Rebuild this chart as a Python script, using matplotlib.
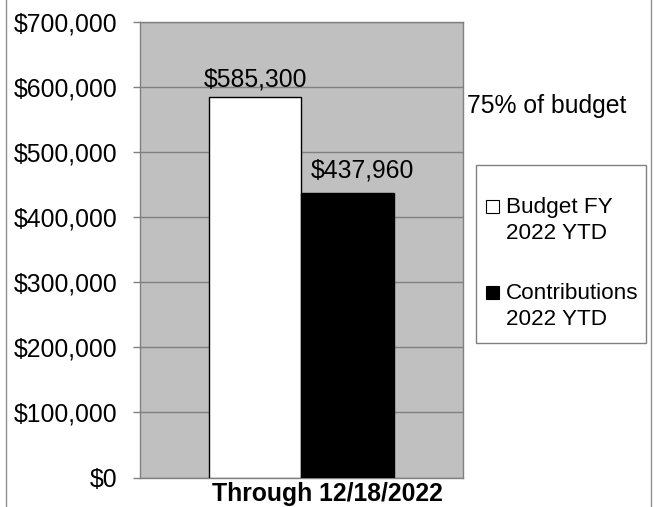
import numpy as np
import matplotlib.pyplot as plt
from matplotlib.patches import Rectangle
from matplotlib.ticker import FuncFormatter, MultipleLocator

plt.rcParams['font.family'] = ['Liberation Sans', 'DejaVu Sans']

# data
series = ['Budget FY\n2022 YTD', 'Contributions\n2022 YTD']
values = [585300, 437960]
colors = ['white', 'black']
category = 'Through 12/18/2022'
note = '75% of budget'

W, H = 654, 507
fig = plt.figure(figsize=(W / 100, H / 100), dpi=100)

def fx(px):
    return px / W

def fy(py):
    return 1 - py / H

# plot area in pixels: left 140, top 22, right 462.7, bottom 477.5
ax = fig.add_axes([fx(140), fy(477.5), fx(462.7 - 140), (477.5 - 22) / H])
ax.set_facecolor('#c0c0c0')

w = 0.287
xs = [-w / 2, w / 2]
bars = ax.bar(xs, values, width=w, color=colors, edgecolor='black', linewidth=1, zorder=3)

ax.set_xlim(-0.5, 0.5)
ax.set_ylim(0, 700000)
ax.yaxis.set_major_locator(MultipleLocator(100000))
ax.yaxis.set_major_formatter(FuncFormatter(lambda v, p: '${:,.0f}'.format(v)))
ax.yaxis.grid(True, color='#808080', linewidth=1)
ax.set_axisbelow(True)
ax.set_xticks([])
ax.tick_params(axis='y', length=5, width=1, color='#808080', pad=11.5, labelsize=17.8)
for s in ax.spines.values():
    s.set_color('#808080')
    s.set_linewidth(1)

# data labels
offsets = [(0, 4), (11, 7)]
for b, v, off in zip(bars, values, offsets):
    ax.annotate('${:,.0f}'.format(v), (b.get_x() + b.get_width() / 2, v),
                xytext=off, textcoords='offset points', ha='center', va='bottom',
                fontsize=17.8, zorder=4)

fig.text(fx(327), fy(500.6), category, ha='center', va='baseline',
         fontsize=17.8, fontweight='bold')
fig.text(fx(467), fy(113), note, ha='left', va='baseline', fontsize=17.8)

# legend box
fig.patches.append(Rectangle((fx(475.7), fy(343)), fx(645.7 - 475.7), (343 - 165) / H,
                             transform=fig.transFigure, facecolor='white',
                             edgecolor='#808080', linewidth=1))
baselines = [213.3, 299]
for lab, c, by in zip(series, colors, baselines):
    fig.patches.append(Rectangle((fx(485.5), fy(by)), fx(13.5), 13.5 / H,
                                 transform=fig.transFigure, facecolor=c,
                                 edgecolor='black', linewidth=0.8))
    for i, line in enumerate(lab.split('\n')):
        fig.text(fx(506), fy(by + 26 * i), line, ha='left', va='baseline', fontsize=16.2)

# outer chart border (left/right edges visible)
fig.patches.append(Rectangle((fx(6), -0.05), fx(651 - 6), 1.1,
                             transform=fig.transFigure, facecolor='none',
                             edgecolor='#909090', linewidth=1))

fig.savefig('out.png', dpi=100)
